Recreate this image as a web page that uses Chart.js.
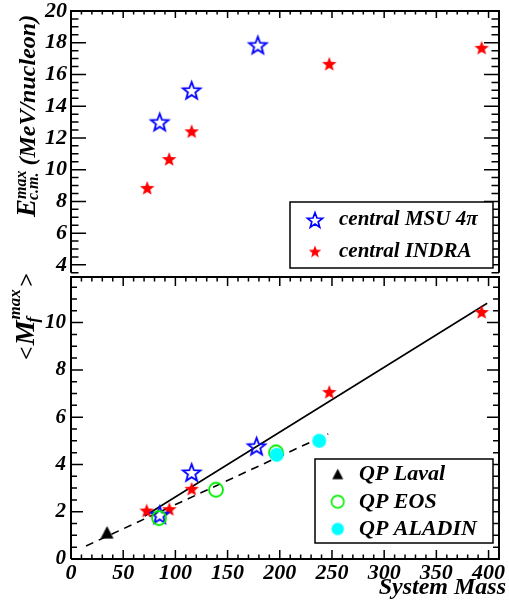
<!DOCTYPE html>
<html><head><meta charset="utf-8">
<script src="https://cdn.jsdelivr.net/npm/chart.js@4/dist/chart.umd.min.js"></script>
<style>
html,body{margin:0;padding:0;background:#fff;overflow:hidden;width:509px;height:609px;}
canvas{position:absolute;left:0;}
#c1{top:-20px;}
#c2{top:240px;}
</style></head><body>
<canvas id="c1" width="509" height="310" style="width:509px;height:310px"></canvas>
<canvas id="c2" width="509" height="369" style="width:509px;height:369px"></canvas>
<script>
// ---------- data ----------
const topYTicks = [4, 6, 8, 10, 12, 14, 16, 18, 20];
const botYTicks = [0, 2, 4, 6, 8, 10];
const xTicks = [0, 50, 100, 150, 200, 250, 300, 350, 400];

const msuMassTop = [85, 115.6, 179];
const msuEcmTop = [13.0, 15.0, 17.85];
const indraMassTop = [73, 94, 115.6, 247.4, 393.4];
const indraEcmTop = [8.85, 10.67, 12.42, 16.67, 17.68];

const lavalMass = [34.5];
const lavalM = [1.13];
const eosMass = [84.3, 138.9, 196.4];
const eosM = [1.73, 2.93, 4.51];
const aladinMass = [197, 237.8];
const aladinM = [4.41, 5.0];
const msuMassBot = [85, 115.6, 177.8];
const msuMBot = [1.87, 3.66, 4.77];
const indraMassBot = [72.5, 94.2, 115.6, 247.4, 393.4];
const indraMBot = [2.05, 2.11, 2.97, 7.07, 10.45];
const fitAllMass = [70.6, 398.7];
const fitAllM = [1.82, 10.82];
const fitQPMass = [14.4, 246.4];
const fitQPM = [0.55, 5.29];

const labelsTop = ['central MSU 4\u03c0', 'central INDRA'];
const labelsBot = ['QP Laval', 'QP EOS', 'QP ALADIN'];

// ---------- helpers ----------
const FAM = '"Liberation Serif", "DejaVu Serif", serif';
const pts = (xs, ys) => xs.map((x, i) => ({x: x, y: ys[i]}));

function starImg(R, fill, stroke, lw) {
  const s = Math.ceil(2 * R + lw + 4);
  const c = document.createElement('canvas'); c.width = c.height = s;
  const g = c.getContext('2d');
  const r = R * 0.42;
  g.translate(s / 2, s / 2 + R * 0.09);
  g.beginPath();
  for (let i = 0; i < 10; i++) {
    const ang = -Math.PI / 2 + i * Math.PI / 5;
    const rr = i % 2 ? r : R;
    const px = rr * Math.cos(ang), py = rr * Math.sin(ang);
    if (i === 0) g.moveTo(px, py); else g.lineTo(px, py);
  }
  g.closePath();
  if (fill) { g.fillStyle = fill; g.fill(); }
  if (stroke) { g.strokeStyle = stroke; g.lineWidth = lw; g.lineJoin = 'miter'; g.stroke(); }
  return c;
}
function circleImg(R, fill, stroke, lw) {
  const s = Math.ceil(2 * R + lw + 4);
  const c = document.createElement('canvas'); c.width = c.height = s;
  const g = c.getContext('2d');
  g.beginPath(); g.arc(s / 2, s / 2, R, 0, 2 * Math.PI);
  if (fill) { g.fillStyle = fill; g.fill(); }
  if (stroke) { g.strokeStyle = stroke; g.lineWidth = lw; g.stroke(); }
  return c;
}
function triImg(S, fill) {
  const s = Math.ceil(S + 4);
  const c = document.createElement('canvas'); c.width = c.height = s;
  const g = c.getContext('2d');
  const h = S * 0.95;
  g.beginPath();
  g.moveTo(s / 2, s / 2 - h / 2);
  g.lineTo(s / 2 + S / 2, s / 2 + h / 2);
  g.lineTo(s / 2 - S / 2, s / 2 + h / 2);
  g.closePath(); g.fillStyle = fill; g.fill();
  return c;
}

const imgMsu = starImg(9.2, null, '#0000ff', 1.8);
const imgIndra = starImg(7.6, '#ff0000', null, 0);
const imgLaval = triImg(13, '#000000');
const imgEos = circleImg(7, null, '#00ee00', 1.8);
const imgAladin = circleImg(7, '#00ffff', null, 0);

const legMsu = starImg(8, null, '#0000ff', 1.7);
const legIndra = starImg(6.6, '#ff0000', null, 0);
const legLaval = triImg(11, '#000000');
const legEos = circleImg(6.2, null, '#00ee00', 1.7);
const legAladin = circleImg(6.2, '#00ffff', null, 0);

function framePlugin(cfg) {
  return {
    id: 'frame',
    beforeDatasetsDraw(chart) {
      const ctx = chart.ctx, a = chart.chartArea, xs = chart.scales.x, ys = chart.scales.y;
      ctx.save();
      ctx.strokeStyle = '#000';
      ctx.lineWidth = 1.5;
      ctx.beginPath();
      const nx = Math.floor(xs.max / cfg.xMinor + 1e-9);
      for (let i = 0; i <= nx; i++) {
        const v = i * cfg.xMinor;
        const px = xs.getPixelForValue(v);
        if (px < a.left - 0.5 || px > a.right + 0.5) continue;
        const maj = (i % Math.round(cfg.xMajor / cfg.xMinor)) === 0;
        const L = maj ? cfg.xMajLen : cfg.xMinLen;
        if (cfg.bottom) { ctx.moveTo(px, a.bottom); ctx.lineTo(px, a.bottom - L); }
        ctx.moveTo(px, a.top); ctx.lineTo(px, a.top + L);
      }
      const i0 = Math.ceil(ys.min / cfg.yMinor - 1e-9), i1 = Math.floor(ys.max / cfg.yMinor + 1e-9);
      const rat = Math.round(cfg.yMajor / cfg.yMinor);
      for (let i = i0; i <= i1; i++) {
        const v = i * cfg.yMinor;
        const py = ys.getPixelForValue(v);
        const maj = (i % rat) === 0;
        const L = maj ? cfg.yMajLen : cfg.yMinLen;
        ctx.moveTo(a.left, py); ctx.lineTo(a.left + L, py);
        ctx.moveTo(a.right, py); ctx.lineTo(a.right - L, py);
      }
      ctx.stroke();
      ctx.lineWidth = 2;
      ctx.beginPath();
      ctx.moveTo(a.left, a.bottom); ctx.lineTo(a.left, a.top); ctx.lineTo(a.right, a.top); ctx.lineTo(a.right, a.bottom);
      if (cfg.bottom) ctx.lineTo(a.left, a.bottom);
      ctx.stroke();
      ctx.restore();
    }
  };
}

function legendPlugin(cfg) {
  return {
    id: 'boxlegend',
    afterDatasetsDraw(chart) {
      const ctx = chart.ctx;
      ctx.save();
      ctx.fillStyle = '#fff';
      ctx.fillRect(cfg.x, cfg.y, cfg.w, cfg.h);
      ctx.strokeStyle = '#000'; ctx.lineWidth = 1.5;
      ctx.strokeRect(cfg.x, cfg.y, cfg.w, cfg.h);
      ctx.fillStyle = '#000';
      ctx.font = cfg.font;
      ctx.textBaseline = 'alphabetic'; ctx.textAlign = 'left';
      cfg.items.forEach((it, i) => {
        const my = cfg.rowY[i];
        ctx.drawImage(it.img, cfg.markX - it.img.width / 2, my - it.img.height / 2);
        ctx.fillText(it.label, cfg.textX, my + cfg.baseOff);
      });
      ctx.restore();
    }
  };
}

function drawTitle(ctx, x, y, items) {
  ctx.save(); ctx.translate(x, y); ctx.rotate(-Math.PI / 2);
  ctx.fillStyle = '#000'; ctx.textBaseline = 'alphabetic'; ctx.textAlign = 'left';
  let cx = 0;
  for (const it of items) {
    ctx.font = it.font;
    if (it.sup !== undefined) {
      const w1 = ctx.measureText(it.sup).width, w2 = ctx.measureText(it.sub).width;
      ctx.fillText(it.sup, cx + (it.supDx || 0), it.supDy);
      ctx.fillText(it.sub, cx + (it.subDx || 0), it.subDy);
      cx += Math.max(w1 + (it.supDx || 0), w2 + (it.subDx || 0)) + (it.after || 0);
    } else {
      ctx.fillText(it.text, cx, it.dy || 0);
      cx += ctx.measureText(it.text).width + (it.after || 0);
    }
  }
  ctx.restore();
}

const tickFont = (px) => ({family: FAM, size: px, weight: 'bold', style: 'italic'});

// ---------- top chart ----------
const OFF1 = 20; // canvas1 page top = -20
new Chart(document.getElementById('c1'), {
  type: 'scatter',
  data: {
    datasets: [
      {label: labelsTop[0], data: pts(msuMassTop, msuEcmTop), pointStyle: imgMsu, order: 1},
      {label: labelsTop[1], data: pts(indraMassTop, indraEcmTop), pointStyle: imgIndra, order: 2}
    ]
  },
  options: {
    responsive: false, animation: false, events: [],
    layout: {padding: {left: 0, right: 10, top: 11 + OFF1, bottom: 310 - (274.5 + OFF1)}},
    plugins: {legend: {display: false}, tooltip: {enabled: false}},
    scales: {
      x: {type: 'linear', min: 0, max: 410, display: false},
      y: {
        type: 'linear', min: 3.5, max: 20,
        afterFit(s) { s.width = 71; },
        afterBuildTicks(s) { s.ticks = topYTicks.map(v => ({value: v})); },
        grid: {display: false, drawTicks: false}, border: {display: false},
        ticks: {font: tickFont(22), color: '#000', padding: 4}
      }
    }
  },
  plugins: [
    framePlugin({bottom: false, xMinor: 10, xMajor: 50, xMajLen: 7, xMinLen: 3.5, yMinor: 0.5, yMajor: 2, yMajLen: 15, yMinLen: 7.5}),
    legendPlugin({x: 290, y: 202 + OFF1, w: 203, h: 66, font: 'bold italic 21px ' + FAM,
      markX: 315, textX: 339, rowY: [220 + OFF1, 251.5 + OFF1], baseOff: 5,
      items: [{img: legMsu, label: labelsTop[0]}, {img: legIndra, label: labelsTop[1]}]}),
    {id: 'ytitle', afterDraw(chart) {
      drawTitle(chart.ctx, 34.5, 217 + OFF1, [
        {text: 'E', font: 'bold italic 27px ' + FAM, after: 0},
        {sup: 'max', sub: 'c.m.', font: 'bold italic 16px ' + FAM, supDy: -9, subDy: 3.5, subDx: -1, after: 5},
        {text: '(MeV/nucleon)', font: 'bold italic 24px ' + FAM}
      ]);
    }}
  ]
});

// ---------- bottom chart ----------
const OFF2 = -240; // canvas2 page top = 240
new Chart(document.getElementById('c2'), {
  type: 'scatter',
  data: {
    datasets: [
      {label: 'fit all', data: pts(fitAllMass, fitAllM), showLine: true, borderColor: '#000', borderWidth: 1.6, pointRadius: 0, order: 10},
      {label: 'fit QP', data: pts(fitQPMass, fitQPM), showLine: true, borderColor: '#000', borderWidth: 1.6, borderDash: [8, 6], pointRadius: 0, order: 11},
      {label: labelsBot[0], data: pts(lavalMass, lavalM), pointStyle: imgLaval, order: 5},
      {label: labelsBot[1], data: pts(eosMass, eosM), pointStyle: imgEos, order: 3},
      {label: labelsBot[2], data: pts(aladinMass, aladinM), pointStyle: imgAladin, order: 2},
      {label: labelsTop[0], data: pts(msuMassBot, msuMBot), pointStyle: imgMsu, order: 4},
      {label: labelsTop[1], data: pts(indraMassBot, indraMBot), pointStyle: imgIndra, order: 6}
    ]
  },
  options: {
    responsive: false, animation: false, events: [],
    layout: {padding: {left: 0, right: 10, top: 277 + OFF2, bottom: 0}},
    plugins: {legend: {display: false}, tooltip: {enabled: false}},
    scales: {
      x: {
        type: 'linear', min: 0, max: 410,
        afterFit(s) { s.height = 369 - (559 + OFF2); },
        afterBuildTicks(s) { s.ticks = xTicks.map(v => ({value: v})); },
        grid: {display: false, drawTicks: false}, border: {display: false},
        ticks: {font: tickFont(22), color: '#000', padding: 1, autoSkip: false, maxRotation: 0}
      },
      y: {
        type: 'linear', min: 0, max: 11.93,
        afterFit(s) { s.width = 71; },
        afterBuildTicks(s) { s.ticks = botYTicks.map(v => ({value: v})); },
        grid: {display: false, drawTicks: false}, border: {display: false},
        ticks: {font: tickFont(21), color: '#000', padding: 5}
      }
    }
  },
  plugins: [
    framePlugin({bottom: true, xMinor: 10, xMajor: 50, xMajLen: 9, xMinLen: 4.5, yMinor: 0.5, yMajor: 2, yMajLen: 12, yMinLen: 6}),
    legendPlugin({x: 315, y: 459 + OFF2, w: 178, h: 84, font: 'bold italic 22px ' + FAM,
      markX: 337.7, textX: 359, rowY: [474 + OFF2, 501.7 + OFF2, 529 + OFF2], baseOff: 6,
      items: [{img: legLaval, label: labelsBot[0]}, {img: legEos, label: labelsBot[1]}, {img: legAladin, label: labelsBot[2]}]}),
    {id: 'titles', afterDraw(chart) {
      const ctx = chart.ctx;
      drawTitle(ctx, 34, 360 + OFF2, [
        {text: '<', font: 'bold italic 24px ' + FAM, after: 1},
        {text: 'M', font: 'bold italic 28px ' + FAM, after: 1},
        {sup: 'max', sub: 'f', font: 'bold italic 17px ' + FAM, supDy: -14, subDy: 4, subDx: -3, after: 2},
        {text: '>', font: 'bold italic 24px ' + FAM}
      ]);
      ctx.save();
      ctx.fillStyle = '#000'; ctx.font = 'bold italic 24px ' + FAM;
      ctx.textAlign = 'right'; ctx.textBaseline = 'alphabetic';
      ctx.fillText('System Mass', 506, 594 + OFF2);
      ctx.restore();
    }}
  ]
});
</script>
</body></html>
